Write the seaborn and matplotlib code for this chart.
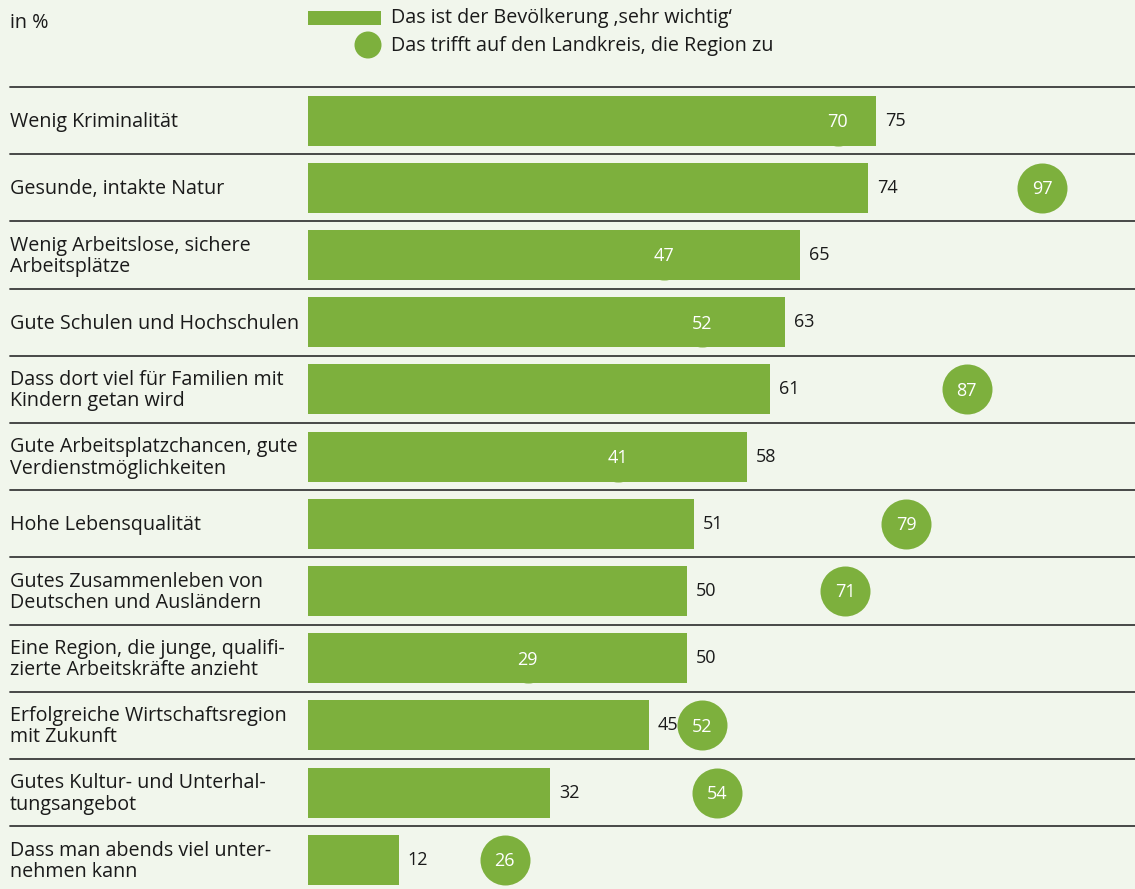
import matplotlib
matplotlib.use("Agg")
import matplotlib.pyplot as plt
from matplotlib.patches import Rectangle, Ellipse
import pandas as pd
import seaborn as sns

# --- data -------------------------------------------------------------
categories = [
    "Wenig Kriminalität",
    "Gesunde, intakte Natur",
    "Wenig Arbeitslose, sichere\nArbeitsplätze",
    "Gute Schulen und Hochschulen",
    "Dass dort viel für Familien mit\nKindern getan wird",
    "Gute Arbeitsplatzchancen, gute\nVerdienstmöglichkeiten",
    "Hohe Lebensqualität",
    "Gutes Zusammenleben von\nDeutschen und Ausländern",
    "Eine Region, die junge, qualifi-\nzierte Arbeitskräfte anzieht",
    "Erfolgreiche Wirtschaftsregion\nmit Zukunft",
    "Gutes Kultur- und Unterhal-\ntungsangebot",
    "Dass man abends viel unter-\nnehmen kann",
]
sehr_wichtig = [75, 74, 65, 63, 61, 58, 51, 50, 50, 45, 32, 12]
trifft_zu = [70, 97, 47, 52, 87, 41, 79, 71, 29, 52, 54, 26]

legend_bar = "Das ist der Bevölkerung \u201asehr wichtig\u2018"
legend_dot = "Das trifft auf den Landkreis, die Region zu"
unit_label = "in %"

# --- style ------------------------------------------------------------
GREEN = "#7db03d"
BG = "#f1f6ec"
INK = "#1a1a1a"
RULE = "#3a3a3a"
FS_LABEL = 14.2
FS_VALUE = 13

sns.set_theme(style="white")
plt.rcParams["font.family"] = ["Open Sans", "DejaVu Sans"]

W, H, DPI = 1135, 889, 100
fig = plt.figure(figsize=(W / DPI, H / DPI), dpi=DPI, facecolor=BG)
ax = fig.add_axes([0, 0, 1, 1], facecolor=BG)

df = pd.DataFrame({"cat": categories, "bar": sehr_wichtig, "dot": trifft_zu})
df["pos"] = range(len(df))

# horizontal scale: 0 sits at x=308 px, 7.57 px per percentage point
x0_px, px_per = 308, 7.57
row_top_px, row_h_px = 87, 67.2

sns.barplot(data=df, x="bar", y="pos", orient="h", native_scale=True,
            color=GREEN, saturation=1, width=50 / row_h_px, ax=ax,
            linewidth=0, zorder=2)
sns.scatterplot(data=df, x="dot", y="pos", color=GREEN, s=(50 * 0.72) ** 2,
                linewidth=0, ax=ax, zorder=3, legend=False)

ax.set_xlim(-x0_px / px_per, (W - x0_px) / px_per)
y_center0 = row_top_px + row_h_px / 2
ax.set_ylim((H - y_center0) / row_h_px, -y_center0 / row_h_px)
ax.set_axis_off()

# row rules
for i in range(len(df) + 1):
    ax.axhline(i - 0.5, xmin=10 / W, xmax=1, color=RULE, lw=1.3, zorder=1)

# category labels, value labels, circle values
for _, r in df.iterrows():
    ax.text(-x0_px / px_per + 10 / px_per, r["pos"] + 0.02, r["cat"], ha="left",
            va="center", fontsize=FS_LABEL, color=INK, linespacing=1.08)
    ax.text(r["bar"] + 9 / px_per, r["pos"], f"{r['bar']}", ha="left",
            va="center", fontsize=FS_VALUE, color=INK)
    ax.text(r["dot"], r["pos"] + 0.02, f"{r['dot']}", ha="center",
            va="center", fontsize=FS_VALUE, color="white", zorder=4)

# header: unit and legend
fig.text(10 / W, 1 - 23 / H, unit_label, ha="left", va="center",
         fontsize=FS_LABEL, color=INK)
fig.add_artist(Rectangle((308 / W, 1 - 25 / H), 73 / W, 14 / H,
                         transform=fig.transFigure, color=GREEN, lw=0))
fig.add_artist(Ellipse((368 / W, 1 - 45 / H), 27 / W, 27 / H,
                       transform=fig.transFigure, color=GREEN, lw=0))
fig.text(391 / W, 1 - 18 / H, legend_bar, ha="left", va="center",
         fontsize=FS_LABEL, color=INK)
fig.text(391 / W, 1 - 46 / H, legend_dot, ha="left", va="center",
         fontsize=FS_LABEL, color=INK)

fig.savefig("out.png", dpi=DPI, facecolor=BG)
